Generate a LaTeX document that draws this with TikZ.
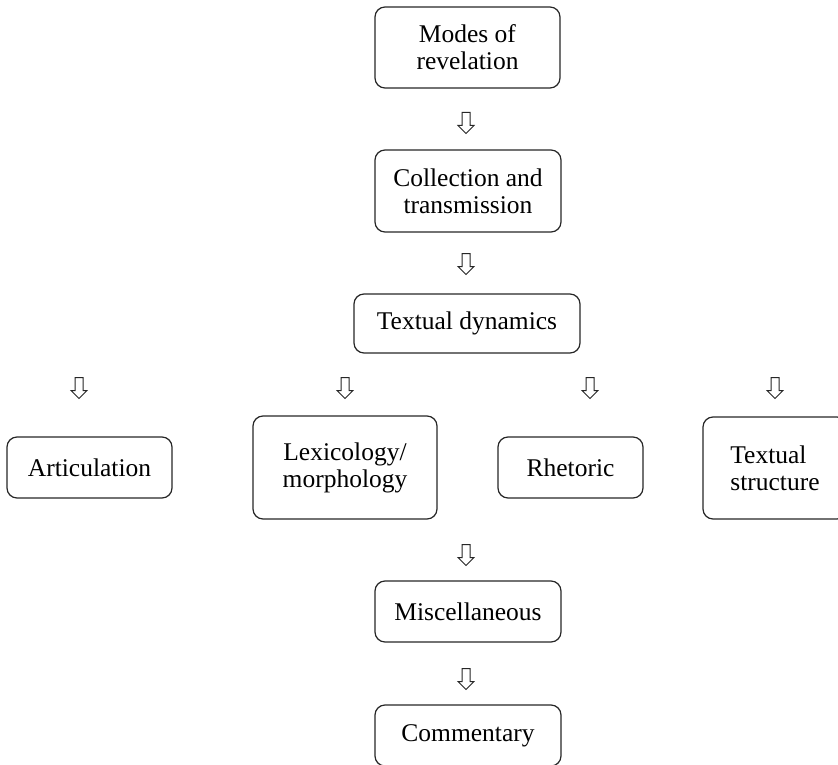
\documentclass[tikz,border=0pt]{standalone}
\usepackage{fontspec}
\setmainfont{Liberation Serif}
\usetikzlibrary{shapes.arrows}
\tikzset{
  box/.style={draw=black!85, line width=1.2pt, rounded corners=10pt, align=center,
    inner sep=0pt, font=\fontsize{25.5}{27}\selectfont},
  downarr/.style={draw=black!85, line width=1pt, single arrow, shape border rotate=270,
    minimum height=21pt, inner xsep=3.5pt, inner ysep=0pt, single arrow head extend=4pt,
    single arrow head indent=0pt, fill=white}
}
\begin{document}
\begin{tikzpicture}[x=1pt,y=-1pt]
\useasboundingbox (0,0) rectangle (838,765);
\node[box, minimum width=185pt, minimum height=81pt] (modes) at (467.5,47.5) {Modes of\\revelation};
\node[box, minimum width=186pt, minimum height=82pt] (coll) at (468,191) {Collection and\\transmission};
\node[box, minimum width=226pt, minimum height=59pt] (td) at (467,323.5) {Textual dynamics};
\node[box, minimum width=165pt, minimum height=61pt] (art) at (89.5,467.5) {Articulation};
\node[box, minimum width=184pt, minimum height=103pt] (lex) at (345,467.5) {Lexicology/\\morphology};
\node[box, minimum width=145pt, minimum height=61pt] (rhe) at (570.5,467.5) {Rhetoric};
\node[box, minimum width=144pt, minimum height=102pt, align=left] (ts) at (775,468) {Textual\\structure};
\node[box, minimum width=186pt, minimum height=61pt] (misc) at (468,611.5) {Miscellaneous};
\node[box, minimum width=186pt, minimum height=61pt] (comm) at (468,735.5) {Commentary};
\node[downarr] (a1) at (466,121) {};
\node[downarr] (a2) at (466,262) {};
\node[downarr] (a3) at (79,386) {};
\node[downarr] (a4) at (345,386) {};
\node[downarr] (a5) at (590,386) {};
\node[downarr] (a6) at (775,386) {};
\node[downarr] (a7) at (466,553) {};
\node[downarr] (a8) at (466,677) {};
\end{tikzpicture}
\end{document}
